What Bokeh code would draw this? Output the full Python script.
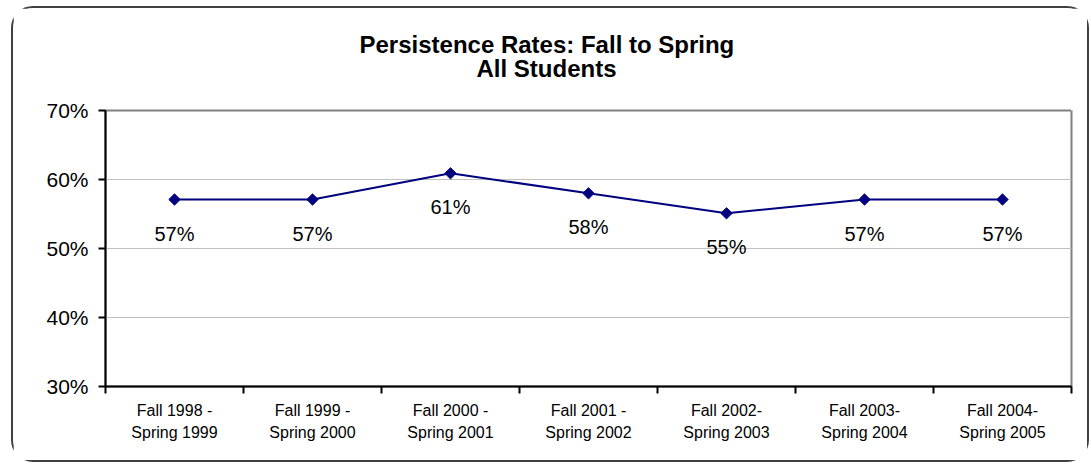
import numpy as np
from bokeh.plotting import figure
from bokeh.models import (FixedTicker, PrintfTickFormatter, Title, Range1d,
                          InlineStyleSheet, LinearAxis)
from bokeh.embed import file_html
from bokeh.resources import INLINE
from bokeh.core.properties import value

# ---- data ----
periods = [
    "Fall 1998 -\nSpring 1999",
    "Fall 1999 -\nSpring 2000",
    "Fall 2000 -\nSpring 2001",
    "Fall 2001 -\nSpring 2002",
    "Fall 2002-\nSpring 2003",
    "Fall 2003-\nSpring 2004",
    "Fall 2004-\nSpring 2005",
]
rates = [57.1, 57.1, 60.9, 58.0, 55.1, 57.1, 57.1]
y_ticks = [30, 40, 50, 60, 70]
title_line1 = "Persistence Rates:  Fall to Spring"
title_line2 = "All Students"

FONT = "Liberation Sans"
n = len(periods)
xs = [i + 0.5 for i in range(n)]
labels = [f"{round(v)}%" for v in rates]

p = figure(
    width=1078, height=456,
    x_range=Range1d(0, n), y_range=Range1d(30, 70),
    output_backend="svg", toolbar_location=None, title=None,
    min_border_left=92, min_border_right=20,
    min_border_top=102, min_border_bottom=78,
    background_fill_color="white", border_fill_color="white",
)
p.stylesheets.append(InlineStyleSheet(
    css=":host { border: 2px solid #404040; border-radius: 22px; margin: 6px 0 0 11px; }"))

p.outline_line_color = "#808080"
p.outline_line_width = 2

p.xgrid.visible = False
p.ygrid.grid_line_color = "#c0c0c0"
p.ygrid.grid_line_width = 1

# y axis
ya = p.yaxis[0]
ya.ticker = FixedTicker(ticks=y_ticks)
ya.formatter = PrintfTickFormatter(format="%d%%")
ya.axis_line_color = "black"
ya.axis_line_width = 2
ya.major_tick_line_color = "black"
ya.major_tick_line_width = 2
ya.major_tick_out = 7
ya.major_tick_in = 0
ya.minor_tick_line_color = None
ya.major_label_text_font = FONT
ya.major_label_text_font_size = "21px"
ya.major_label_text_color = "black"
ya.major_label_standoff = 10

# x axis: labels at category centres, tick marks at boundaries
xa = p.xaxis[0]
xa.ticker = FixedTicker(ticks=xs, minor_ticks=list(range(n + 1)))
xa.major_label_overrides = {x: lab for x, lab in zip(xs, periods)}
xa.axis_line_color = "black"
xa.axis_line_width = 2
xa.major_tick_line_color = None
xa.major_tick_out = 0
xa.major_tick_in = 0
xa.minor_tick_line_color = "black"
xa.minor_tick_line_width = 2
xa.minor_tick_out = 7
xa.minor_tick_in = 0
xa.major_label_text_font = FONT
xa.major_label_text_font_size = "16px"
xa.major_label_text_color = "black"
xa.major_label_text_line_height = 1.35
xa.major_label_standoff = 8

# series
p.line(xs, rates, line_color="#000080", line_width=2)
p.scatter(xs, rates, marker="square", size=8, angle=np.pi / 4,
          fill_color="#000080", line_color="#000080")
p.text(xs, rates, text=labels, y_offset=34,
       text_align="center", text_baseline="middle",
       text_font=value(FONT), text_font_size="20px", text_color="black")

# blank spacer between frame and title (white tick, no label)
spacer = LinearAxis(ticker=FixedTicker(ticks=[n]), axis_line_color=None,
                    major_tick_line_color="white", major_tick_line_width=1,
                    minor_tick_line_color=None,
                    major_tick_out=31, major_tick_in=0, minor_tick_out=0,
                    major_label_overrides={n: ""}, major_label_standoff=0,
                    major_label_text_font_size="1px")
p.add_layout(spacer, "above")

# title (two lines, nearest-to-frame first)
p.add_layout(Title(text=title_line2, align="left", offset=371, standoff=-5,
                   text_font=FONT, text_font_style="bold",
                   text_font_size="24px", text_color="black"), "above")
p.add_layout(Title(text=title_line1, align="left", offset=254, standoff=-5,
                   text_font=FONT, text_font_style="bold",
                   text_font_size="24px", text_color="black"), "above")

open("out.html", "w").write(file_html(p, INLINE))
